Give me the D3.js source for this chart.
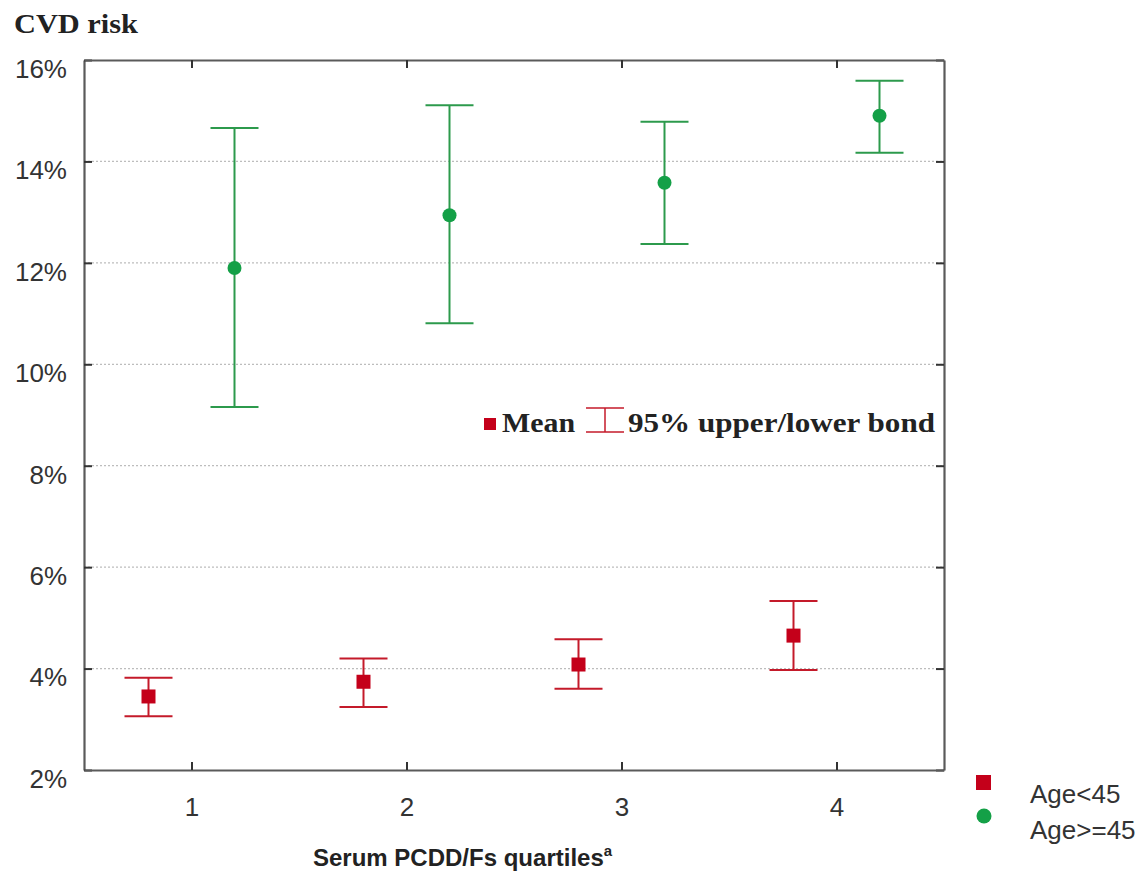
<!DOCTYPE html>
<html>
<head>
<meta charset="utf-8">
<script src="https://cdn.jsdelivr.net/npm/d3@7"></script>
<style>
  body { margin: 0; background: #fff; }
  svg { display: block; }
</style>
</head>
<body>
<svg id="chart" width="1145" height="871"></svg>
<script>
// Quartiles of serum PCDD/Fs
const quartiles = [1, 2, 3, 4];
// CVD risk (%) by age group: mean and 95% bounds
const youngMean  = [3.45, 3.74, 4.08, 4.65];
const youngUpper = [3.82, 4.20, 4.58, 5.33];
const youngLower = [3.06, 3.24, 3.60, 3.97];
const oldMean    = [11.90, 12.94, 13.58, 14.90];
const oldUpper   = [14.66, 15.11, 14.78, 15.59];
const oldLower   = [9.16, 10.81, 12.37, 14.17];
const yTicks = [2, 4, 6, 8, 10, 12, 14, 16];
const groupLabels = ["Age<45", "Age>=45"];

const RED = "#c4001a", RED_LINE = "#c41a2a";
const GREEN = "#14a047", GREEN_LINE = "#2c9a4c";
const TEXT = "#333";
const SANS = "Liberation Sans, Arial, sans-serif";
const SERIF = "Liberation Serif, Times New Roman, serif";

const svg = d3.select("#chart");
const m = { left: 84, top: 60, right: 944, bottom: 770 };

const x = d3.scaleLinear().domain([0.5, 4.5]).range([m.left, m.right]);
const y = d3.scaleLinear().domain([2, 16]).range([m.bottom, m.top]);

// horizontal dotted gridlines
svg.append("g").selectAll("line")
  .data(yTicks.filter(t => t > 2 && t < 16))
  .join("line")
  .attr("x1", m.left).attr("x2", m.right)
  .attr("y1", d => y(d)).attr("y2", d => y(d))
  .attr("stroke", "#bdbdbd").attr("stroke-width", 1.2)
  .attr("stroke-dasharray", "2,2");

// axes with inward ticks on all four sides
const fmt = d => d + "%";
const axLeft = svg.append("g").attr("transform", `translate(${m.left},0)`)
  .call(d3.axisLeft(y).tickValues(yTicks).tickFormat(fmt).tickSizeInner(-8).tickSizeOuter(0).tickPadding(17));
const axRight = svg.append("g").attr("transform", `translate(${m.right},0)`)
  .call(d3.axisRight(y).tickValues(yTicks).tickFormat("").tickSizeInner(-8).tickSizeOuter(0));
const axBottom = svg.append("g").attr("transform", `translate(0,${m.bottom})`)
  .call(d3.axisBottom(x).tickValues(quartiles).tickFormat(d3.format("d")).tickSizeInner(-8).tickSizeOuter(0).tickPadding(28));
const axTop = svg.append("g").attr("transform", `translate(0,${m.top})`)
  .call(d3.axisTop(x).tickValues(quartiles).tickFormat("").tickSizeInner(-8).tickSizeOuter(0));

[axLeft, axRight, axBottom, axTop].forEach(g => {
  g.select(".domain").attr("stroke", "#5a5a5a").attr("stroke-width", 2.2);
  g.selectAll(".tick line").attr("stroke", "#333").attr("stroke-width", 2);
  g.selectAll(".tick text").attr("fill", TEXT)
    .attr("font-family", SANS).attr("font-size", 26);
});
// percentage labels sit slightly below their tick
axLeft.selectAll(".tick text").attr("y", 9);

// error bars and means
function drawSeries(mean, upper, lower, offset, lineColor, fillColor, shape) {
  const g = svg.append("g");
  const half = 24;
  quartiles.forEach((q, i) => {
    const cx = x(q + offset);
    g.append("line").attr("x1", cx).attr("x2", cx)
      .attr("y1", y(upper[i])).attr("y2", y(lower[i]))
      .attr("stroke", lineColor).attr("stroke-width", 2);
    [upper[i], lower[i]].forEach(v => {
      g.append("line").attr("x1", cx - half).attr("x2", cx + half)
        .attr("y1", y(v)).attr("y2", y(v))
        .attr("stroke", lineColor).attr("stroke-width", 2);
    });
    if (shape === "square") {
      g.append("rect").attr("x", cx - 7).attr("y", y(mean[i]) - 7)
        .attr("width", 14).attr("height", 14).attr("fill", fillColor);
    } else {
      g.append("circle").attr("cx", cx).attr("cy", y(mean[i]))
        .attr("r", 7).attr("fill", fillColor);
    }
  });
}
drawSeries(youngMean, youngUpper, youngLower, -0.2, RED_LINE, RED, "square");
drawSeries(oldMean, oldUpper, oldLower, 0.2, GREEN_LINE, GREEN, "circle");

// y-axis title
svg.append("text").attr("x", 14).attr("y", 33)
  .attr("font-family", SERIF)
  .attr("font-weight", "bold").attr("font-size", 27).attr("fill", "#222")
  .attr("textLength", 124).attr("lengthAdjust", "spacingAndGlyphs")
  .text("CVD risk");

// x-axis title with superscript
const xt = svg.append("text").attr("x", 313).attr("y", 866)
  .attr("font-family", SANS)
  .attr("font-weight", "bold").attr("font-size", 24).attr("fill", "#222");
xt.append("tspan").text("Serum PCDD/Fs quartiles");
xt.append("tspan").attr("font-size", 15).attr("dy", -10).text("a");

// in-plot key: mean marker and 95% bound marker
const key = svg.append("g");
key.append("rect").attr("x", 484).attr("y", 418).attr("width", 12).attr("height", 12).attr("fill", RED);
key.append("text").attr("x", 502).attr("y", 432)
  .attr("font-family", SERIF)
  .attr("font-weight", "bold").attr("font-size", 27).attr("fill", "#222")
  .attr("textLength", 73).attr("lengthAdjust", "spacingAndGlyphs")
  .text("Mean");
key.append("line").attr("x1", 586).attr("x2", 624).attr("y1", 408).attr("y2", 408)
  .attr("stroke", RED_LINE).attr("stroke-width", 1.5);
key.append("line").attr("x1", 586).attr("x2", 624).attr("y1", 432).attr("y2", 432)
  .attr("stroke", RED_LINE).attr("stroke-width", 1.5);
key.append("line").attr("x1", 605).attr("x2", 605).attr("y1", 408).attr("y2", 432)
  .attr("stroke", RED_LINE).attr("stroke-width", 1.5);
key.append("text").attr("x", 628).attr("y", 432)
  .attr("font-family", SERIF)
  .attr("font-weight", "bold").attr("font-size", 27).attr("fill", "#222")
  .attr("textLength", 307).attr("lengthAdjust", "spacingAndGlyphs")
  .text("95% upper/lower bond");

// group legend
const leg = svg.append("g");
leg.append("rect").attr("x", 976).attr("y", 775).attr("width", 15).attr("height", 15).attr("fill", RED);
leg.append("circle").attr("cx", 984).attr("cy", 816).attr("r", 7.5).attr("fill", GREEN);
leg.selectAll("text").data(groupLabels).join("text")
  .attr("x", 1030).attr("y", (d, i) => 803 + i * 36)
  .attr("font-family", SANS)
  .attr("font-size", 26).attr("fill", TEXT)
  .text(d => d);
</script>
</body>
</html>
